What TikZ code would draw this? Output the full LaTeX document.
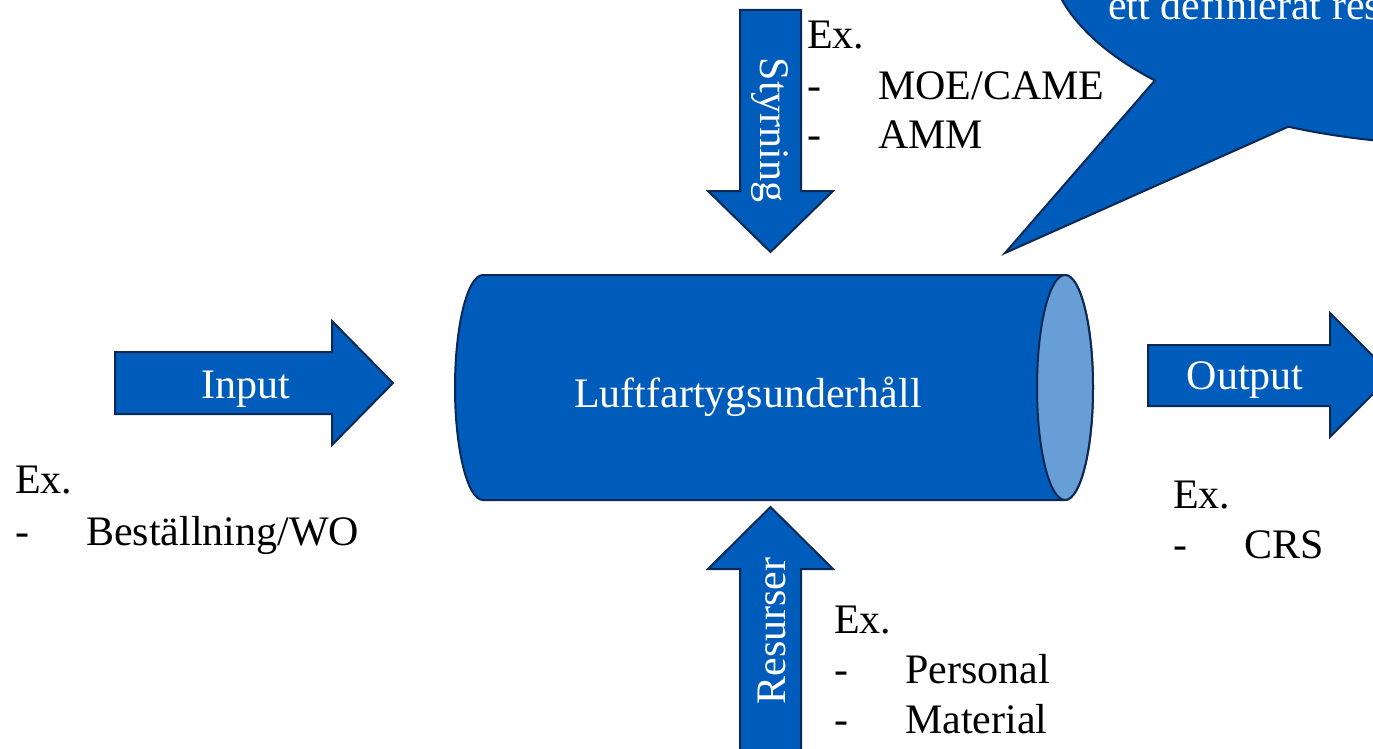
\documentclass[tikz,border=0pt]{standalone}
\usepackage{fontspec}
\setmainfont{Liberation Serif}
\definecolor{procblue}{RGB}{0,92,187}
\definecolor{procline}{RGB}{12,40,84}
\definecolor{faceblue}{RGB}{104,158,214}
\tikzset{
  blockarrow/.style={fill=procblue, draw=procline, line width=2pt, line join=miter},
  whitetext/.style={text=white, inner sep=0pt, font=\fontsize{42}{50}\selectfont},
  listtext/.style={text=black, inner sep=0pt, anchor=base west, font=\fontsize{42}{50}\selectfont},
}
\newcommand{\dashitem}[1]{\makebox[71pt][l]{-}#1}
\begin{document}
\begin{tikzpicture}[x=1pt,y=-1pt]
\useasboundingbox (0,0) rectangle (1373,749);
\clip (0,0) rectangle (1373,749);

% speech bubble with its tail pointing at the process
\draw[blockarrow] (1005,253)
  -- plot[domain=138:475, samples=220] ({1464+416*cos(\x)},{-50+195*sin(\x)})
  -- cycle;
\node[whitetext, anchor=base west] (bubbletext) at (1108,20) {ett definierat resultat};

% input arrow
\draw[blockarrow] (115,352) -- (332,352) -- (332,321) -- (393,383) -- (332,445)
  -- (332,414) -- (115,414) -- cycle;
\node[whitetext, anchor=base] (input) at (246,398) {Input};

% output arrow
\draw[blockarrow] (1148,345) -- (1330,345) -- (1330,313) -- (1392,375) -- (1330,437)
  -- (1330,406) -- (1148,406) -- cycle;
\node[whitetext, anchor=base] (output) at (1245,389) {Output};

% control arrow from above
\draw[blockarrow] (740,10) -- (801,10) -- (801,191) -- (833,191) -- (770.5,252)
  -- (708,191) -- (740,191) -- cycle;
\node[whitetext, rotate=-90] (styrning) at (770,130) {Styrning};

% resource arrow from below
\draw[blockarrow] (740,770) -- (740,569) -- (708,569) -- (770.5,507) -- (833,569)
  -- (801,569) -- (801,770) -- cycle;
\node[whitetext, rotate=90] (resurser) at (772,631) {Resurser};

% the process as a horizontal cylinder
\draw[blockarrow] (483,275) -- (1065,275)
  arc[start angle=90, end angle=-90, x radius=28pt, y radius=112.5pt]
  -- (483,500)
  arc[start angle=270, end angle=90, x radius=28pt, y radius=112.5pt]
  -- cycle;
\draw[fill=faceblue, draw=procline, line width=2pt] (1065,387.5) ellipse[x radius=28pt, y radius=112.5pt];
\node[whitetext, anchor=base] (process) at (748,407) {Luftfartygsunderhåll};

% examples
\node[listtext] (styEx) at (807,49) {Ex.};
\node[listtext] (sty1) at (807,100) {\dashitem{MOE/CAME}};
\node[listtext] (sty2) at (807,149) {\dashitem{AMM}};

\node[listtext] (inEx) at (15,493) {Ex.};
\node[listtext] (in1) at (15,545) {\dashitem{Beställning/WO}};

\node[listtext] (outEx) at (1173,508) {Ex.};
\node[listtext] (out1) at (1173,558) {\dashitem{CRS}};

\node[listtext] (resEx) at (834,633) {Ex.};
\node[listtext] (res1) at (834,683) {\dashitem{Personal}};
\node[listtext] (res2) at (834,733) {\dashitem{Material}};
\end{tikzpicture}
\end{document}
